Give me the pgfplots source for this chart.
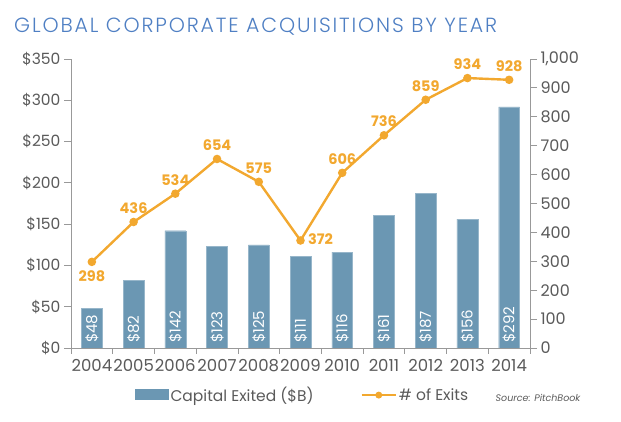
\documentclass[border=0pt]{standalone}
\usepackage{pgfplots}
\pgfplotsset{compat=1.18}
\usepackage{fontspec}
\setmainfont{Poppins}
\newfontfamily\titlefont[LetterSpace=9]{Poppins Light}
\definecolor{barblue}{HTML}{6B97B3}
\definecolor{lineor}{HTML}{F2A82F}
\definecolor{txtgray}{HTML}{5A5A5A}
\definecolor{axgray}{HTML}{999999}
\definecolor{titleblue}{HTML}{4F7FC3}
\begin{document}
\begin{tikzpicture}
\useasboundingbox (0,0) rectangle (621pt,422pt);
\node[anchor=west, text=titleblue, font=\titlefont\fontsize{20.5}{24}\selectfont, inner sep=0pt] at (14pt,395pt) {GLOBAL CORPORATE ACQUISITIONS BY YEAR};
\begin{axis}[
  at={(71pt,74pt)}, anchor=south west,
  scale only axis, width=459pt, height=289pt,
  xmin=-0.5, xmax=10.5, ymin=0, ymax=350,
  axis x line*=bottom, axis y line*=left,
  axis line style={axgray, line width=0.8pt},
  every tick/.style={axgray, line width=0.8pt},
  xtick={0,...,10}, xticklabels={2004,2005,2006,2007,2008,2009,2010,2011,2012,2013,2014},
  major x tick style={draw=none},
  minor xtick={-0.5,0.5,...,10.5},
  minor tick length=6pt,
  tick align=outside,
  ytick={0,50,...,350},
  major tick length=7pt,
  yticklabel={\$\pgfmathprintnumber{\tick}},
  /pgf/number format/assume math mode=true,
  tick label style={text=txtgray, font=\fontsize{15.5}{17}\selectfont},
  xticklabel style={yshift=-1pt, font=\fontsize{16.5}{18}\selectfont},
]
\addplot[ybar, bar width=0.5, fill=barblue, draw=barblue!70!white, line width=0.4pt] coordinates {
(0,48) (1,82) (2,142) (3,123) (4,125) (5,111) (6,116) (7,161) (8,187) (9,156) (10,292)};
\addplot[draw=none, mark=none, nodes near coords, point meta=explicit symbolic,
  nodes near coords style={rotate=90, anchor=west, text=white, font=\fontsize{15}{17}\selectfont, inner sep=5pt}]
coordinates {
(0,0) [\$48] (1,0) [\$82] (2,0) [\$142] (3,0) [\$123] (4,0) [\$125] (5,0) [\$111]
(6,0) [\$116] (7,0) [\$161] (8,0) [\$187] (9,0) [\$156] (10,0) [\$292]};
\end{axis}
\begin{axis}[
  at={(71pt,74pt)}, anchor=south west,
  scale only axis, width=459pt, height=289pt,
  xmin=-0.5, xmax=10.5, ymin=0, ymax=1000,
  axis x line=none, axis y line*=right,
  axis line style={axgray, line width=0.8pt},
  every tick/.style={axgray, line width=0.8pt},
  tick align=outside, major tick length=7pt,
  ytick={0,100,...,1000},
  /pgf/number format/assume math mode=true,
  /pgf/number format/1000 sep={,},
  tick label style={text=txtgray, font=\fontsize{16}{18}\selectfont},
  legend style={at={(0.505,-0.163)}, anchor=center, draw=none, fill=none,
    font=\fontsize{15.5}{17}\selectfont, text=txtgray, legend columns=2,
    /tikz/every even column/.append style={column sep=45pt}},
  legend image code/.code={},
]
\addlegendimage{area legend, fill=barblue, draw=barblue, legend image code/.code={\fill[barblue] (-0.05cm,-4.5pt) rectangle (1.1cm,5.5pt);}}
\addlegendentry{Capital Exited (\$B)}
\addplot[lineor, line width=2.4pt, mark=*, mark size=3pt, mark options={fill=lineor, draw=lineor},
  nodes near coords, point meta=explicit symbolic,
  nodes near coords style={text=lineor, font=\bfseries\fontsize{14.5}{16}\selectfont, anchor=south, yshift=4pt},
  legend image code/.code={\draw[lineor, line width=2.2pt] (0cm,0cm) -- (1.2cm,0cm); \fill[lineor] (0.6cm,0cm) circle (2.2pt);}]
coordinates {
(0,298) [] (1,436) [436] (2,534) [534] (3,654) [654] (4,575) [575] (5,372) []
(6,606) [606] (7,736) [736] (8,859) [859] (9,934) [934] (10,928) [928]};
\addlegendentry{\# of Exits}
\addplot[draw=none, mark=none, nodes near coords, point meta=explicit symbolic,
  nodes near coords style={text=lineor, font=\bfseries\fontsize{14.5}{16}\selectfont, anchor=north, yshift=-5pt}]
coordinates {(0,298) [298]};
\addplot[draw=none, mark=none, nodes near coords, point meta=explicit symbolic,
  nodes near coords style={text=lineor, font=\bfseries\fontsize{14.5}{16}\selectfont, anchor=west, xshift=4pt, yshift=1pt}]
coordinates {(5,372) [372]};
\end{axis}
\node[anchor=center, text=txtgray, font=\itshape\fontsize{9.5}{11}\selectfont] at (538pt,24pt) {Source: PitchBook};
\end{tikzpicture}
\end{document}
